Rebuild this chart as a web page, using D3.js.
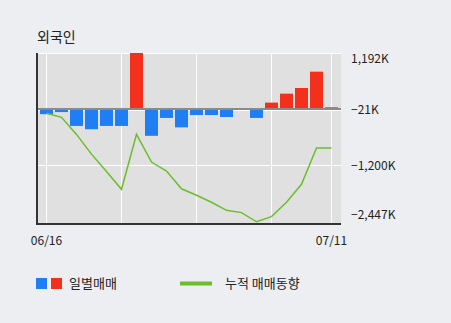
<!DOCTYPE html>
<html>
<head>
<meta charset="utf-8">
<title>외국인</title>
<style>
body {margin: 0; background: #eceef2;}
text {font-family: "Noto Sans CJK KR", "Noto Sans", sans-serif; fill: #222;}
</style>
</head>
<body>
<div id="chart"></div>
<script src="https://cdn.jsdelivr.net/npm/d3@7/dist/d3.min.js"></script>
<script>
var dates = ['06/16','06/17','06/18','06/19','06/20','06/23','06/24','06/25','06/26','06/27',
	'06/30','07/01','07/02','07/03','07/04','07/07','07/08','07/09','07/10','07/11'];
// daily net buying (thousand shares)
var daily = [-110, -65, -360, -430, -360, -360, 1192, -570, -190, -390,
	-128, -128, -170, -10, -190, 136, 327, 447, 795, 36];
// cumulative trend
var cumul = [-92, -177, -540, -960, -1330, -1709, -538, -1128, -1319, -1698,
	-1836, -1985, -2156, -2205, -2400, -2290, -1985, -1602, -830, -830];
var yTicks = [1192, -21, -1200, -2447];
var xTickIdx = [0, 5, 10, 15, 19];
var xLabels = ['06/16', '07/11'];

(function(d3) {
	var width = 451, height = 323;
	var pLeft = 37, pRight = 341, pTop = 53, pBottom = 224;

	var svg = d3.select('#chart').append('svg')
		.attr('width', width)
		.attr('height', height);

	var x = d3.scalePoint().domain(dates).range([46.5, 331.5]);
	var y = d3.scaleLinear().domain([-2447, 1192]).range([pBottom, pTop]);

	svg.append('text').attr('x', 37).attr('y', 42)
		.style('font-size', '14px').text('외국인');

	svg.append('rect').attr('x', pLeft).attr('y', pTop)
		.attr('width', pRight - pLeft).attr('height', pBottom - pTop)
		.attr('fill', '#e0e0e0');

	// grid
	svg.selectAll('.hgrid').data(yTicks).enter().append('line')
		.attr('x1', pLeft).attr('x2', pRight)
		.attr('y1', function(d) { return Math.round(y(d)) + 0.5; })
		.attr('y2', function(d) { return Math.round(y(d)) + 0.5; })
		.attr('stroke', '#fff').attr('stroke-width', 1);
	svg.selectAll('.vgrid').data(xTickIdx).enter().append('line')
		.attr('x1', function(i) { return x(dates[i]); })
		.attr('x2', function(i) { return x(dates[i]); })
		.attr('y1', pTop).attr('y2', pBottom)
		.attr('stroke', '#fff').attr('stroke-width', 1);

	// bars
	svg.selectAll('.bar').data(daily).enter().append('rect')
		.attr('x', function(d, i) { return x(dates[i]) - 6.5; })
		.attr('width', 13)
		.attr('y', function(d) { return y(Math.max(0, d)); })
		.attr('height', function(d) { return Math.abs(y(d) - y(0)); })
		.attr('fill', function(d) { return d >= 0 ? '#f2301b' : '#1f7ef4'; });

	// zero line
	svg.append('line').attr('x1', pLeft).attr('x2', pRight)
		.attr('y1', y(0)).attr('y2', y(0))
		.attr('stroke', '#8a8a8a').attr('stroke-width', 2);

	// cumulative line
	var line = d3.line()
		.x(function(d, i) { return x(dates[i]); })
		.y(function(d) { return y(d); });
	svg.append('path').datum(cumul)
		.attr('d', line)
		.attr('fill', 'none')
		.attr('stroke', '#6cbd2e')
		.attr('stroke-width', 1.5);

	// axis lines
	svg.append('line').attr('x1', pLeft).attr('x2', pLeft)
		.attr('y1', pTop).attr('y2', pBottom + 1)
		.attr('stroke', '#333').attr('stroke-width', 2);
	svg.append('line').attr('x1', pLeft - 1).attr('x2', pRight)
		.attr('y1', pBottom).attr('y2', pBottom)
		.attr('stroke', '#333').attr('stroke-width', 2);

	// right labels
	svg.selectAll('.ylab').data(yTicks).enter().append('text')
		.attr('x', 351)
		.attr('y', function(d) { return Math.min(215, Math.max(59, y(d))); })
		.attr('dy', '0.35em')
		.style('font-size', '12px')
		.text(function(d) { return d3.format(',')(d) + 'K'; });

	// x labels
	svg.selectAll('.xlab').data(xLabels).enter().append('text')
		.attr('x', function(d) { return x(d); })
		.attr('y', 245)
		.attr('text-anchor', 'middle')
		.style('font-size', '12px')
		.text(function(d) { return d; });

	// legend
	svg.append('rect').attr('x', 36).attr('y', 278).attr('width', 11).attr('height', 11).attr('fill', '#1f7ef4');
	svg.append('rect').attr('x', 51).attr('y', 278).attr('width', 11).attr('height', 11).attr('fill', '#f2301b');
	svg.append('text').attr('x', 69).attr('y', 288).style('font-size', '13px').text('일별매매');
	svg.append('line').attr('x1', 180).attr('x2', 212).attr('y1', 283.5).attr('y2', 283.5)
		.attr('stroke', '#6cbd2e').attr('stroke-width', 4);
	svg.append('text').attr('x', 225).attr('y', 288).style('font-size', '13px').text('누적 매매동향');
})(window.d3);
</script>
</body>
</html>
